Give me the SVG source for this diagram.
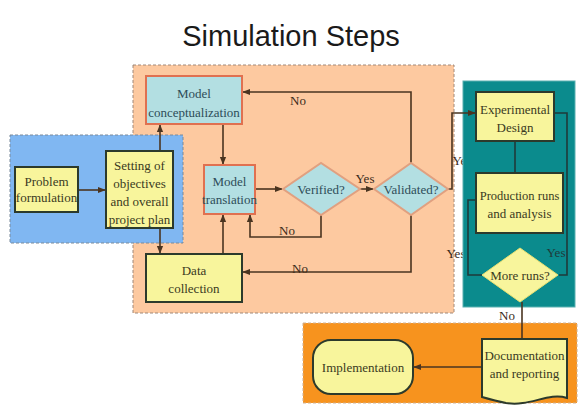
<svg xmlns="http://www.w3.org/2000/svg" width="578" height="408" viewBox="0 0 578 408">
<defs>
<marker id="ah" viewBox="0 0 10 10" refX="9" refY="5" markerWidth="5" markerHeight="5" orient="auto">
<path d="M0,1 L10,5 L0,9 Z" fill="#4a3420"/>
</marker>
<style>
.t{font-family:"Liberation Serif","Times New Roman",serif;font-size:13px;text-anchor:middle;}
.ty{fill:#3a3a22;}
.tb{fill:#2e4d58;}
.lab{font-family:"Liberation Serif","Times New Roman",serif;font-size:13px;text-anchor:middle;fill:#3a2a1a;}
.yel{fill:#f8f59c;stroke:#2c3a2c;stroke-width:2;}
.blu{fill:#b3dfe2;stroke:#e07050;stroke-width:2;}
.ln{fill:none;stroke:#4a3420;stroke-width:1.6;}
.la{fill:none;stroke:#4a3420;stroke-width:1.6;marker-end:url(#ah);}
</style>
</defs>
<rect width="578" height="408" fill="#ffffff"/>
<text x="291" y="46" font-family="'Liberation Sans',Arial,sans-serif" font-size="29" text-anchor="middle" fill="#1a1a1a">Simulation Steps</text>

<g id="regions">
<rect x="133" y="65" width="321" height="248" fill="#fdc9a0" stroke="#a08878" stroke-width="1" stroke-dasharray="3,2"/>
<rect x="10" y="135" width="173" height="108" fill="#80b7f2" stroke="#7a8a9a" stroke-width="1" stroke-dasharray="3,2"/>
<text class="lab" x="462" y="165">Yes</text>
<text class="lab" x="456" y="258">Yes</text>
<rect x="463" y="81" width="112" height="226" fill="#0b8b8d" stroke="#5ab0b0" stroke-width="1"/>
<rect x="303" y="323" width="274" height="80" fill="#f7931e" stroke="#d0b090" stroke-width="1" stroke-dasharray="3,2"/>
</g>

<g id="connectors">
<line class="la" x1="78" y1="190" x2="105" y2="190"/>
<line class="la" x1="160" y1="151" x2="160" y2="125"/>
<line class="la" x1="160" y1="228" x2="160" y2="253"/>
<line class="la" x1="223" y1="124" x2="223" y2="164"/>
<line class="la" x1="223" y1="254" x2="223" y2="215"/>
<line class="la" x1="255" y1="189" x2="282" y2="189"/>
<line class="la" x1="360" y1="189" x2="373" y2="189"/>
<polyline class="la" points="411,163 411,92 243,92"/>
<polyline class="la" points="321,215 321,237 250,237 250,215"/>
<polyline class="la" points="411,215 411,272 243,272"/>
<polyline class="la" points="448,189 452,189 452,113 475,113"/>
<line class="ln" x1="515" y1="141" x2="515" y2="173" style="stroke:#1f3a3a"/>
<polyline class="ln" points="559,275 567,275 567,113 554,113" style="stroke:#1f3a3a"/>
<polyline class="ln" points="482,275 468,275 468,200 476,200" style="stroke:#1f3a3a"/>
<line class="ln" x1="522" y1="302" x2="522" y2="339"/>
<line class="la" x1="482" y1="367" x2="414" y2="367"/>
<text class="lab" x="298" y="105">No</text>
<text class="lab" x="287" y="235">No</text>
<text class="lab" x="300" y="273">No</text>
<text class="lab" x="365" y="183">Yes</text>
<text class="lab" x="556" y="257" style="fill:#1f3a3a">Yes</text>
<text class="lab" x="507" y="320">No</text>
</g>

<g id="problem">
<rect class="yel" x="15" y="167" width="63" height="45"/>
<text class="t ty" x="46.5" y="186">Problem</text>
<text class="t ty" x="46.5" y="202">formulation</text>
</g>
<g id="objectives">
<rect class="yel" x="106" y="151" width="67" height="77"/>
<text class="t ty" x="139.5" y="170">Setting of</text>
<text class="t ty" x="139.5" y="188">objectives</text>
<text class="t ty" x="139.5" y="206">and overall</text>
<text class="t ty" x="139.5" y="224">project plan</text>
</g>
<g id="conceptualization">
<rect class="blu" x="146" y="76" width="96" height="48"/>
<text class="t tb" x="194" y="98">Model</text>
<text class="t tb" x="194" y="117">conceptualization</text>
</g>
<g id="translation">
<rect class="blu" x="204" y="165" width="51" height="49"/>
<text class="t tb" x="229.5" y="186">Model</text>
<text class="t tb" x="229.5" y="204">translation</text>
</g>
<g id="data">
<rect class="yel" x="146" y="254" width="96" height="48"/>
<text class="t ty" x="194" y="275">Data</text>
<text class="t ty" x="194" y="293">collection</text>
</g>
<g id="verified">
<polygon class="blu" points="283,189 321,163 360,189 321,215" style="stroke:#e0a080"/>
<text class="t tb" x="321" y="194">Verified?</text>
</g>
<g id="validated">
<polygon class="blu" points="374,189 411,163 448,189 411,215" style="stroke:#e0a080"/>
<text class="t tb" x="411" y="194">Validated?</text>
</g>
<g id="experimental">
<rect class="yel" x="476" y="92" width="78" height="49"/>
<text class="t ty" x="515" y="114">Experimental</text>
<text class="t ty" x="515" y="132">Design</text>
</g>
<g id="production">
<rect class="yel" x="476" y="173" width="87" height="60"/>
<text class="t ty" x="519.5" y="200" style="font-size:12.5px">Production runs</text>
<text class="t ty" x="519.5" y="218">and analysis</text>
</g>
<g id="moreruns">
<polygon class="yel" points="482,275 520,248 558,275 520,302" style="stroke:#e8e070;stroke-width:1"/>
<text class="t ty" x="520" y="280">More runs?</text>
</g>
<g id="documentation">
<path class="yel" d="M482,339 H567 V398 C548,392 530,407 506,403 C496,401 489,399 482,397 Z"/>
<text class="t ty" x="524.5" y="360">Documentation</text>
<text class="t ty" x="524.5" y="378">and reporting</text>
</g>
<g id="implementation">
<rect class="yel" x="313" y="340" width="100" height="54" rx="18" ry="18"/>
<text class="t ty" x="363" y="372">Implementation</text>
</g>
</svg>
